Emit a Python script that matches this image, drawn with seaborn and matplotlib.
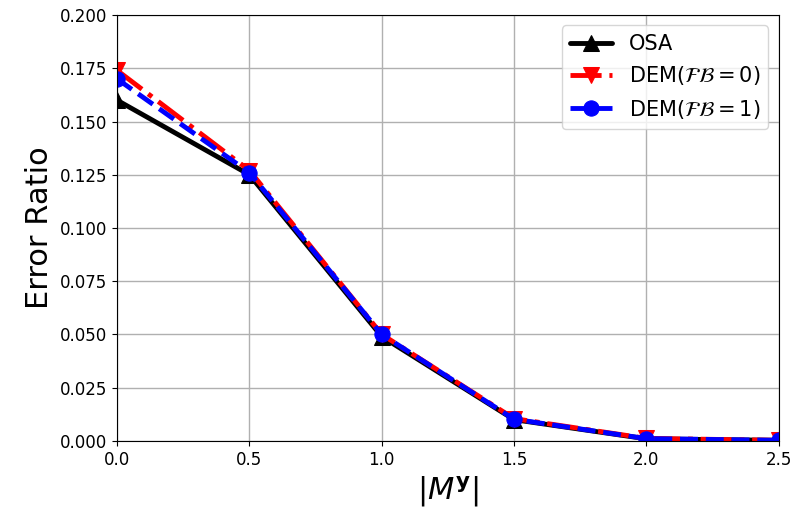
import numpy as np
import pandas as pd
import matplotlib
matplotlib.use("Agg")
import matplotlib.pyplot as plt
import seaborn as sns

# data
m_y = [0.0, 0.5, 1.0, 1.5, 2.0, 2.5]
osa = [0.160, 0.125, 0.049, 0.010, 0.001, 0.0003]
dem_fb0 = [0.174, 0.127, 0.050, 0.0105, 0.0012, 0.0003]
dem_fb1 = [0.170, 0.126, 0.050, 0.0102, 0.0011, 0.0003]

sns.set_style("ticks", {'axes.edgecolor': 'black', 'xtick.color': 'black',
                        'ytick.color': 'black', 'text.color': 'black',
                        'axes.labelcolor': 'black'})
plt.rcParams['font.family'] = ['DejaVu Sans']

labels = ['OSA', r'DEM($\mathcal{FB}=0$)', r'DEM($\mathcal{FB}=1$)']
df = pd.DataFrame({
    'x': m_y * 3,
    'y': osa + dem_fb0 + dem_fb1,
    'method': [labels[0]] * 6 + [labels[1]] * 6 + [labels[2]] * 6,
})

fig, ax = plt.subplots(figsize=(7.97, 5.2), dpi=100)
styles = {
    labels[0]: dict(color='black', linestyle='-', marker='^'),
    labels[1]: dict(color='red', linestyle='-.', marker='v'),
    labels[2]: dict(color='blue', linestyle='--', marker='o'),
}
for name, st in styles.items():
    sub = df[df['method'] == name]
    sns.lineplot(data=sub, x='x', y='y', ax=ax, label=name, linewidth=3.5,
                 markersize=11, markeredgecolor=st['color'], **st)

ax.set_xlim(0, 2.5)
ax.set_ylim(0, 0.2)
ax.set_yticks(np.arange(0, 0.2001, 0.025))
ax.grid(True, color='#b0b0b0', linewidth=1)
ax.tick_params(labelsize=12, colors='black')
ax.set_xlabel(r'$|M^{\mathbf{y}}|$', fontsize=22)
ax.set_ylabel('Error Ratio', fontsize=22)
ax.legend(loc='upper right', fontsize=15)
fig.subplots_adjust(left=0.147, right=0.977, top=0.971, bottom=0.152)
fig.savefig('out.png', dpi=100)
